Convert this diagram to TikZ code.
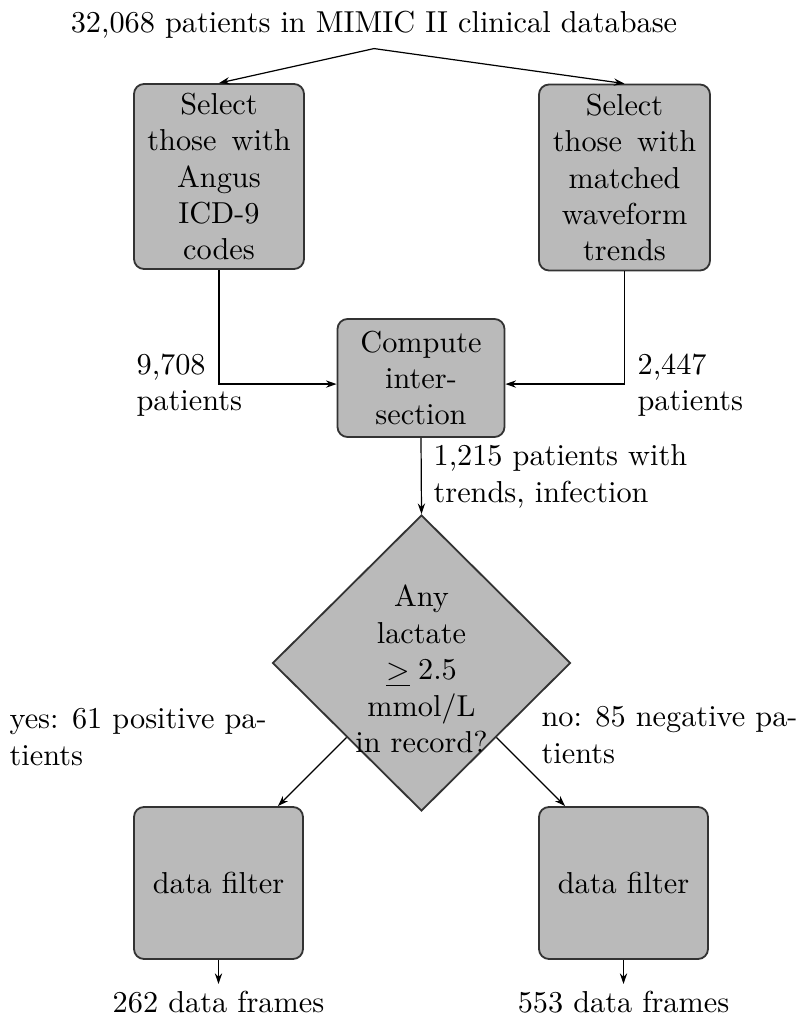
\documentclass[tikz,border=0pt]{standalone}
\usetikzlibrary{arrows.meta,shapes.geometric,calc}
\begin{document}
\begin{tikzpicture}[x=0.33pt,y=-0.33pt,
  txt/.style={font=\fontsize{10}{12}\selectfont},
  box/.style={txt, draw=black!80, fill=black!27, rounded corners=3.3pt, line width=0.6pt, align=center, inner sep=0pt},
  lbl/.style={txt, align=left, inner sep=0pt, anchor=north west},
  conn/.style={-{Stealth[length=3.5pt,width=2.4pt]}, line width=0.4pt},
]
\useasboundingbox (0,0) rectangle (801,1030);
\node[txt, anchor=base, inner sep=3pt] (top) at (374,33) {32,068 patients in MIMIC II clinical database};
\node[box, minimum width=170*0.33pt, minimum height=185*0.33pt] (tl) at (219,176.5) {Select\\those\hspace{5pt}with\\Angus\\ICD-9\\codes};
\node[box, minimum width=171*0.33pt, minimum height=186*0.33pt] (tr) at (624.5,177.5) {Select\\those\hspace{5pt}with\\matched\\waveform\\trends};
\node[box, minimum width=167*0.33pt, minimum height=118*0.33pt] (comp) at (421,378) {Compute\\inter-\\section};
\node[draw=black!80, fill=black!27, line width=0.6pt, diamond, minimum width=298*0.33pt, minimum height=296*0.33pt, inner sep=0pt] (dia) at (421.5,663) {};
\node[txt, align=center, inner sep=0pt] (dtxt) at (421.5,669) {Any\\lactate\\$\mathrel{\underline{>}}2.5$\\mmol/L\\in record?};
\node[box, minimum width=169*0.33pt, minimum height=152*0.33pt] (bl) at (218.5,883) {data filter};
\node[box, minimum width=169*0.33pt, minimum height=152*0.33pt] (br) at (623.5,883) {data filter};
\node[txt, anchor=base, inner sep=2pt] (blt) at (218.5,1012) {262 data frames};
\node[txt, anchor=base, inner sep=2pt] (brt) at (623.5,1012) {553 data frames};
\node[lbl] (l1) at (136,353.5) {9,708\\patients};
\node[lbl] (l2) at (637,353.5) {2,447\\patients};
\node[lbl] (l3) at (433,444) {1,215 patients with\\trends, infection};
\node[lbl] (l4) at (9,708) {yes: 61 positive pa-\\tients};
\node[lbl] (l5) at (541,706) {no: 85 negative pa-\\tients};
\draw[conn] (top.south) -- (tl.north);
\draw[conn] (top.south) -- (tr.north);
\draw[conn] (tl.south) |- ([yshift=-2pt]comp.west);
\draw[conn] (tr.south) |- ([yshift=-2pt]comp.east);
\draw[conn] (comp.south) -- (dia.north);
\coordinate (dsw) at ($(dia.west)!0.5!(dia.south)$);
\coordinate (dse) at ($(dia.east)!0.5!(dia.south)$);
\draw[conn] (dsw) -- ($(dsw)!1.41421!-45:(dsw |- bl.north)$);
\draw[conn] (dse) -- ($(dse)!1.41421!45:(dse |- br.north)$);
\draw[conn] (bl.south) -- (blt.north);
\draw[conn] (br.south) -- (brt.north);
\end{tikzpicture}
\end{document}
